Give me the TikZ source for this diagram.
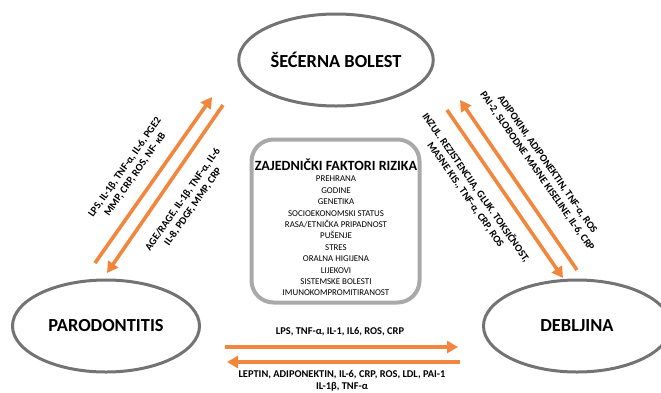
\documentclass[tikz,border=0pt]{standalone}
\usepackage{fontspec}
\setmainfont{Carlito}
\usetikzlibrary{arrows.meta,shapes.geometric}
\usetikzlibrary{positioning}

\definecolor{narancasta}{HTML}{F2863C}
\definecolor{siva}{HTML}{737373}
\definecolor{svsiva}{HTML}{A9A9A9}

\begin{document}
\begin{tikzpicture}[x=1pt,y=-1pt,
  elip/.style={draw=siva,line width=3pt,ellipse,minimum width=187pt,minimum height=92pt,
    font=\fontsize{18.4}{21}\selectfont\bfseries},
  okvir/.style={draw=svsiva,line width=4pt,rounded corners=22pt,minimum width=168pt,minimum height=163pt},
  strel/.style={draw=narancasta,line width=3.6pt,-{Triangle[length=11pt,width=12pt]}},
  opis/.style={font=\fontsize{10.4}{12.5}\selectfont\bfseries,align=center,inner sep=0pt},
  popis/.style={font=\fontsize{8.9}{11.4}\selectfont,align=center,inner sep=0pt}]
\useasboundingbox (0,0) rectangle (661,392);
\clip (0,0) rectangle (661,392);

\node[elip] (sb) at (336,60) {ŠEĆERNA BOLEST};
\node[elip] (par) at (106,326) {PARODONTITIS};
\node[elip] (deb) at (577,326) {DEBLJINA};

\node[okvir] (fr) at (335.5,221) {};
\node[font=\fontsize{14.1}{16}\selectfont\bfseries,inner sep=0pt] (zf) at (336,165) {ZAJEDNIČKI FAKTORI RIZIKA};
\node[popis,below=5pt of zf] (fl) {PREHRANA\\GODINE\\GENETIKA\\SOCIOEKONOMSKI STATUS\\RASA/ETNIČKA PRIPADNOST\\PUŠENJE\\STRES\\ORALNA HIGIJENA\\LIJEKOVI\\SISTEMSKE BOLESTI\\IMUNOKOMPROMITIRANOST};

% krajevi strelica
\coordinate (p1) at (95,263);  \coordinate (s1) at (212,97);
\coordinate (s2) at (223,105); \coordinate (p2) at (107,273);
\coordinate (s3) at (447,110); \coordinate (d3) at (563,278);
\coordinate (d4) at (577,270); \coordinate (s4) at (460,100);
\coordinate (p5) at (225,347); \coordinate (d5) at (458,347);
\coordinate (d6) at (460,362); \coordinate (p6) at (227,362);

\draw[strel](p1)--(s1);
\draw[strel](s2)--(p2);
\draw[strel](s3)--(d3);
\draw[strel](d4)--(s4);
\draw[strel](p5)--(d5);
\draw[strel](d6)--(p6);

\node[opis,rotate=55] (o1) at (130,171) {LPS, IL-1β, TNF-α, IL-6, PGE2\\MMP, CRP, ROS, NF- κB};
\node[opis,rotate=55] (o2) at (188,203) {AGE/RAGE, IL-1β, TNF-α, IL-6\\IL-8, PDGF, MMP, CRP};
\node[opis,rotate=-55] (o3) at (542,168) {ADIPOKINI, ADIPONEKTIN, TNF-α, ROS\\PAI-2, SLOBODNE MASNE KISELINE, IL-6, CRP};
\node[opis,rotate=-55] (o4) at (471,191) {INZUL. REZISTENCIJA, GLUK. TOKSIČNOST,\\MASNE KIS., TNF-α, CRP, ROS};
\node[opis] (o5) at (340,332) {LPS, TNF-α, IL-1, IL6, ROS, CRP};
\node[opis] (o6) at (342,381) {LEPTIN, ADIPONEKTIN, IL-6, CRP, ROS, LDL, PAI-1\\IL-1β, TNF-α};
\end{tikzpicture}
\end{document}
